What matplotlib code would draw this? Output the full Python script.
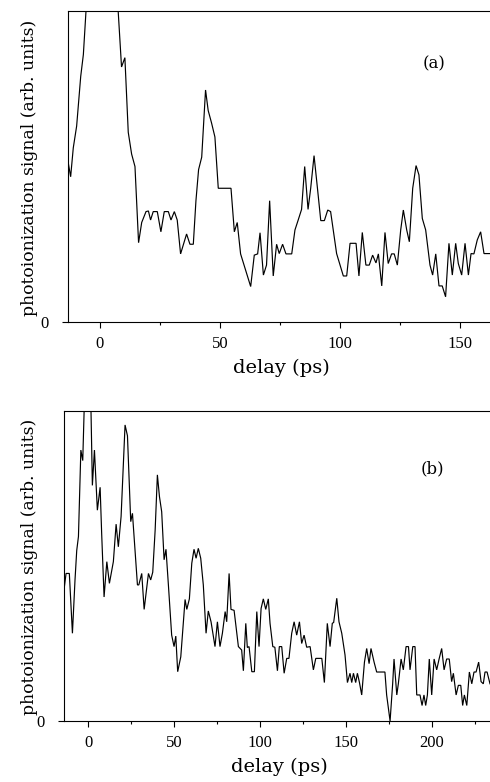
import matplotlib
matplotlib.use("Agg")
import matplotlib.pyplot as plt
from matplotlib.ticker import FixedLocator

# ---------------- data: panel (a) ----------------
delay_a = [-13.6, -12.2, -11.1, -9.7, -8.0, -6.9, -5.8, -3.0, 1.0, 5.0, 7.6,
           9.0, 10.4, 11.8, 13.2, 14.6, 16.1, 17.4, 19.2, 20.2, 21.1, 22.2,
           23.9, 25.4, 26.8, 28.5, 29.6, 31.0, 32.2, 33.6, 36.1, 37.5, 38.9,
           40.0, 41.1, 42.4, 44.0, 45.1, 46.5, 47.9, 49.3, 54.6, 56.0, 57.2,
           58.6, 62.8, 64.3, 65.7, 66.7, 68.1, 69.4, 70.7, 72.2, 73.6, 74.7,
           76.1, 77.5, 79.9, 81.25, 82.6, 84.0, 85.3, 86.7, 87.8, 89.2, 90.7,
           92.0, 93.5, 94.9, 96.1, 98.6, 101.4, 102.8, 104.2, 106.7, 107.9,
           109.3, 110.8, 112.2, 113.6, 115.0, 116.0, 117.4, 118.75, 120.1,
           121.5, 122.6, 123.9, 125.3, 126.4, 127.8, 128.9, 130.3, 131.7,
           132.9, 134.3, 135.7, 137.5, 138.6, 139.9, 141.25, 142.6, 144.0,
           145.4, 146.8, 148.2, 149.3, 150.7, 152.1, 153.5, 154.6, 155.8,
           157.2, 158.6, 160.0, 162.5]
signal_a = [0.53, 0.467, 0.56, 0.63, 0.79, 0.86, 1.0, 1.2, 1.3, 1.2, 1.0,
            0.82, 0.85, 0.61, 0.54, 0.50, 0.255, 0.32, 0.355, 0.357, 0.328, 0.355,
            0.355, 0.29, 0.355, 0.355, 0.328, 0.355, 0.328, 0.219, 0.283, 0.25, 0.25,
            0.39, 0.49, 0.53, 0.746, 0.68, 0.64, 0.595, 0.43, 0.43, 0.29, 0.32,
            0.219, 0.114, 0.215, 0.219, 0.287, 0.151, 0.183, 0.39, 0.148, 0.25, 0.22,
            0.25, 0.219, 0.219, 0.296, 0.328, 0.362, 0.50, 0.362, 0.43, 0.535, 0.424,
            0.326, 0.326, 0.36, 0.355, 0.22, 0.148, 0.148, 0.253, 0.253, 0.148,
            0.288, 0.183, 0.183, 0.215, 0.19, 0.219, 0.116, 0.288, 0.188,
            0.219, 0.219, 0.183, 0.296, 0.36, 0.296, 0.258, 0.43, 0.503,
            0.473, 0.333, 0.296, 0.183, 0.151, 0.219, 0.116, 0.116, 0.081,
            0.253, 0.151, 0.253, 0.188, 0.151, 0.253, 0.151, 0.22, 0.219,
            0.264, 0.29, 0.22, 0.22]

# ---------------- data: panel (b) ----------------
delay_b = [-14.0, -12.8, -10.9, -9.1, -7.6, -6.6, -5.6, -4.2, -3.1, -2.3, -1.0,
           0.5, 1.7, 2.5, 3.7, 5.4, 7.0, 7.9, 9.3, 10.9, 12.4, 14.7, 16.3, 17.6,
           19.2, 21.5, 22.9, 24.8, 25.8, 28.7, 29.5, 31.2, 32.6, 35.1, 36.4,
           37.6, 39.0, 40.3, 41.5, 42.8, 44.2, 45.3, 46.7, 48.6, 50.0, 51.0,
           52.1, 53.9, 56.4, 57.4, 58.9, 60.3, 61.6, 62.8, 64.1, 65.5, 67.0,
           68.6, 69.9, 71.5, 73.8, 75.2, 76.7, 78.1, 79.7, 80.6, 82.0, 83.1,
           84.9, 87.4, 89.3, 90.3, 91.7, 92.6, 93.6, 95.2, 96.7, 98.1, 99.4,
           100.6, 101.9, 103.3, 104.8, 105.8, 107.4, 108.6, 110.1, 111.2,
           112.6, 114.0, 115.5, 116.8, 118.4, 119.8, 121.3, 122.9, 124.2,
           125.6, 127.1, 129.1, 131.0, 132.4, 135.9, 137.4, 139.1, 140.7,
           142.0, 142.8, 144.6, 145.9, 147.5, 149.4, 150.8, 152.3, 153.3,
           154.3, 155.6, 156.6, 157.8, 159.1, 160.7, 162.0, 163.4, 164.5,
           166.3, 167.8, 170.7, 172.6, 173.6, 175.6, 177.1, 177.9, 179.5,
           180.4, 182.0, 183.3, 184.9, 186.3, 187.2, 188.8, 190.1, 191.1,
           193.0, 194.2, 195.3, 196.3, 197.3, 198.4, 199.8, 201.2, 202.7,
           204.1, 205.6, 207.0, 208.5, 210.0, 211.4, 212.4, 214.0, 215.3,
           216.7, 217.8, 218.8, 220.2, 221.7, 223.1, 224.4, 225.6, 227.1,
           228.5, 229.8, 230.8, 232.0, 233.7]
signal_b = [0.423, 0.476, 0.476, 0.283, 0.455, 0.55, 0.595, 0.874, 0.84, 1.0, 1.2,
            1.2, 1.0, 0.76, 0.874, 0.68, 0.754, 0.605, 0.40, 0.514, 0.444, 0.514, 0.635, 0.562,
            0.66, 0.955, 0.92, 0.643, 0.67, 0.439, 0.439, 0.476, 0.36, 0.476, 0.455,
            0.48, 0.616, 0.794, 0.724, 0.675, 0.52, 0.554, 0.439, 0.277, 0.24, 0.274,
            0.159, 0.207, 0.392, 0.36, 0.394, 0.509, 0.554, 0.525, 0.557, 0.525, 0.439,
            0.283, 0.355, 0.32, 0.24, 0.32, 0.24, 0.283, 0.353, 0.32, 0.476, 0.36,
            0.357, 0.24, 0.229, 0.162, 0.315, 0.237, 0.24, 0.159, 0.159, 0.353, 0.24,
            0.363, 0.394, 0.36, 0.394, 0.315, 0.24, 0.238, 0.162, 0.24,
            0.24, 0.154, 0.202, 0.202, 0.283, 0.32, 0.277, 0.32, 0.25,
            0.277, 0.238, 0.24, 0.165, 0.202, 0.202, 0.124, 0.315, 0.24,
            0.315, 0.318, 0.396, 0.32, 0.283, 0.213, 0.124, 0.154, 0.124,
            0.154, 0.124, 0.154, 0.124, 0.084, 0.19, 0.234, 0.185, 0.234,
            0.19, 0.158, 0.158, 0.158, 0.084, 0.0, 0.12, 0.2, 0.084,
            0.12, 0.2, 0.165, 0.24, 0.24, 0.165, 0.24, 0.24, 0.084,
            0.084, 0.05, 0.084, 0.05, 0.084, 0.2, 0.084, 0.2, 0.165,
            0.2, 0.234, 0.165, 0.2, 0.2, 0.127, 0.154, 0.084, 0.115,
            0.115, 0.05, 0.084, 0.05, 0.158, 0.12, 0.158, 0.158, 0.19,
            0.127, 0.12, 0.158, 0.158, 0.12]

x_label = "delay (ps)"
y_label = "photoionization signal (arb. units)"
panel_tags = ["(a)", "(b)"]
xticks_a = [0, 50, 100, 150]
xticks_b = [0, 50, 100, 150, 200]

plt.rcParams['font.family'] = ['DejaVu Serif']

W, H = 490, 782
fig = plt.figure(figsize=(W / 100, H / 100), dpi=100)

def px_axes(l, t, r, b):
    return fig.add_axes([l / W, 1 - b / H, (r - l) / W, (b - t) / H])

ax_a = px_axes(68, 11, 490, 322)
ax_b = px_axes(64, 411, 490, 721)

specs = [
    (ax_a, delay_a, signal_a, (-13.3, 162.5), xticks_a, panel_tags[0], (434, 64), 68, 322, 311, -0.092),
    (ax_b, delay_b, signal_b, (-14.0, 233.7), xticks_b, panel_tags[1], (432, 469), 64, 721, 310, -0.082),
]

for ax, xs, ys, xlim, xt, tag, tagpos, left, bottom, height, ylx in specs:
    ax.plot(xs, ys, color='black', lw=0.85, solid_joinstyle='miter')
    ax.set_xlim(*xlim)
    ax.set_ylim(0, 1)
    ax.spines['right'].set_visible(False)
    for s in ['left', 'top', 'bottom']:
        ax.spines[s].set_linewidth(0.8)
    ax.xaxis.set_major_locator(FixedLocator(xt))
    ax.xaxis.set_minor_locator(FixedLocator([v + 25 for v in xt if v + 25 < xlim[1]]))
    ax.yaxis.set_major_locator(FixedLocator([0]))
    ax.yaxis.set_minor_locator(FixedLocator([]))
    ax.tick_params(axis='x', which='major', direction='out', length=4, width=0.8,
                   labelsize=12, pad=6)
    ax.tick_params(axis='x', which='minor', direction='out', length=2.5, width=0.8)
    ax.tick_params(axis='y', which='major', direction='out', length=4, width=0.8,
                   labelsize=12, pad=10)
    ax.tick_params(top=False, right=False)
    for lab in ax.get_xticklabels() + ax.get_yticklabels():
        lab.set_family(['Liberation Serif'])
    ax.set_xlabel(x_label, fontsize=14)
    ax.set_ylabel(y_label, fontsize=12.4)
    ax.yaxis.set_label_coords(ylx, 0.497)
    ax.yaxis.label.set_va('center')
    ax.xaxis.set_label_coords(0.506, -0.148)
    ax.xaxis.label.set_va('center')
    ax.text((tagpos[0] - left) / (490 - left), (bottom - tagpos[1]) / height, tag,
            transform=ax.transAxes, ha='center', va='center', fontsize=12)

fig.savefig("out.png", dpi=100)
